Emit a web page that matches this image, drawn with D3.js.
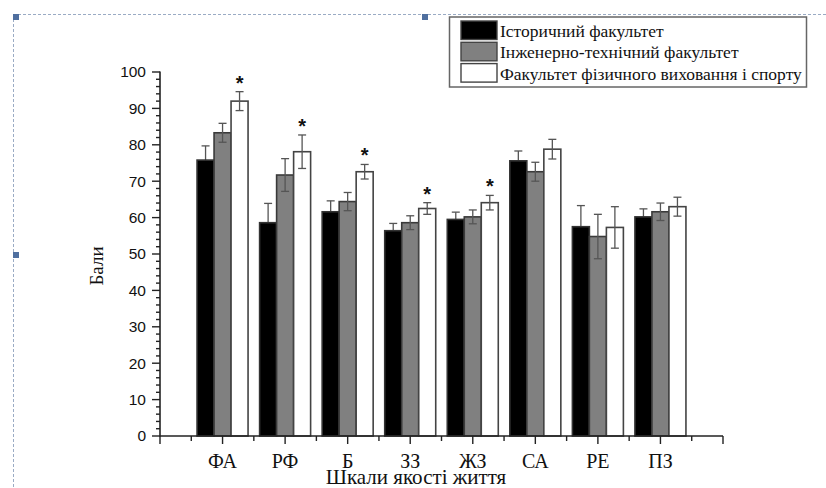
<!DOCTYPE html>
<html>
<head>
<meta charset="utf-8">
<script src="https://cdn.jsdelivr.net/npm/d3@7"></script>
<style>
  html, body { margin: 0; padding: 0; background: #fff; }
  svg { display: block; }
  .serif { font-family: "Liberation Serif", "DejaVu Serif", "Times New Roman", serif; }
  .sans { font-family: "Liberation Sans", Arial, sans-serif; }
</style>
</head>
<body>
<svg id="chart" width="826" height="488"></svg>
<script>
// ---------------- DATA ----------------
const categories = ["ФА", "РФ", "Б", "ЗЗ", "ЖЗ", "СА", "РЕ", "ПЗ"];
const seriesNames = [
  "Історичний факультет",
  "Інженерно-технічний факультет",
  "Факультет фізичного виховання і спорту"
];
const historyMeans   = [75.8, 58.6, 61.6, 56.4, 59.5, 75.6, 57.5, 60.2];
const historyErrors  = [3.9, 5.3, 3.0, 2.0, 2.0, 2.7, 5.8, 2.2];
const engineerMeans  = [83.3, 71.7, 64.4, 58.6, 60.2, 72.6, 54.8, 61.6];
const engineerErrors = [2.6, 4.5, 2.5, 1.9, 1.9, 2.6, 6.1, 2.4];
const sportMeans     = [92.0, 78.1, 72.6, 62.5, 64.1, 78.8, 57.3, 63.0];
const sportErrors    = [2.6, 4.6, 2.0, 1.6, 2.0, 2.7, 5.7, 2.6];
const significant    = [true, true, true, true, true, false, false, false];
const yTickValues    = [0, 10, 20, 30, 40, 50, 60, 70, 80, 90, 100];
const yAxisTitle = "Бали";
const xAxisTitle = "Шкали якості життя";

// ---------------- LAYOUT ----------------
const svg = d3.select("#chart");
const fills = ["#000000", "#808080", "#ffffff"];
const strokes = ["#333333", "#3a3a3a", "#444444"];
const series = [
  { name: seriesNames[0], means: historyMeans, errs: historyErrors },
  { name: seriesNames[1], means: engineerMeans, errs: engineerErrors },
  { name: seriesNames[2], means: sportMeans, errs: sportErrors }
];

const x = d3.scaleLinear().domain([0, categories.length + 1]).range([160, 723]);
const y = d3.scaleLinear().domain([0, 100]).range([436, 72]);
const barW = 17;

// decorative dashed frame with handles
const frameColor = "#9aabc4";
svg.append("line").attr("x1", 13).attr("x2", 826).attr("y1", 14.5).attr("y2", 14.5)
  .attr("stroke", frameColor).attr("stroke-width", 1).attr("stroke-dasharray", "3,2");
svg.append("line").attr("x1", 13.5).attr("x2", 13.5).attr("y1", 14).attr("y2", 488)
  .attr("stroke", frameColor).attr("stroke-width", 1).attr("stroke-dasharray", "3,2");
[[13, 14], [422, 14], [13, 252]].forEach(([hx, hy]) => {
  svg.append("rect").attr("x", hx).attr("y", hy).attr("width", 6).attr("height", 6)
    .attr("fill", "#4f6f9f");
});

const plot = svg.append("g");

// bars and error bars
series.forEach((s, si) => {
  const g = plot.append("g");
  const cx = i => x(i + 1) + (si - 1) * barW;
  const drawErr = () => {
    const eg = g.append("g").attr("stroke", "#555").attr("stroke-width", 1.3).attr("fill", "none");
    s.means.forEach((m, i) => {
      const e = s.errs[i];
      eg.append("line").attr("x1", cx(i)).attr("x2", cx(i)).attr("y1", y(m - e)).attr("y2", y(m + e));
      eg.append("line").attr("x1", cx(i) - 4).attr("x2", cx(i) + 4).attr("y1", y(m + e)).attr("y2", y(m + e));
      eg.append("line").attr("x1", cx(i) - 4).attr("x2", cx(i) + 4).attr("y1", y(m - e)).attr("y2", y(m - e));
    });
  };
  if (si === 0) drawErr();
  g.selectAll("rect").data(s.means).join("rect")
    .attr("x", (d, i) => cx(i) - barW / 2)
    .attr("y", d => y(d))
    .attr("width", barW)
    .attr("height", d => y(0) - y(d))
    .attr("fill", fills[si])
    .attr("stroke", strokes[si])
    .attr("stroke-width", 1.6);
  if (si !== 0) drawErr();
});

// significance stars
plot.selectAll("text.star").data(categories.map((c, i) => i).filter(i => significant[i]))
  .join("text")
  .attr("class", "star sans")
  .attr("x", i => x(i + 1) + barW)
  .attr("y", i => y(sportMeans[i] + sportErrors[i]) - 2)
  .attr("text-anchor", "middle")
  .style("font-size", "20px")
  .style("font-weight", "bold")
  .attr("fill", "#111")
  .text("*");

// y axis
const axisColor = "#222";
const yAxisG = svg.append("g");
yAxisG.append("line").attr("x1", 160).attr("x2", 160).attr("y1", y(0) + 0.5).attr("y2", y(100) - 0.5)
  .attr("stroke", axisColor).attr("stroke-width", 1.6);
d3.range(0, 101, 2).forEach(v => {
  const major = v % 10 === 0;
  yAxisG.append("line").attr("x1", 160 - (major ? 8 : 4)).attr("x2", 160)
    .attr("y1", y(v)).attr("y2", y(v)).attr("stroke", axisColor).attr("stroke-width", 1.4);
});
yAxisG.selectAll("text").data(yTickValues).join("text")
  .attr("class", "sans")
  .attr("x", 146).attr("y", d => y(d)).attr("dy", "0.35em")
  .attr("text-anchor", "end")
  .style("font-size", "15.5px")
  .attr("fill", "#111")
  .text(d => d);

// x axis
const xAxisG = svg.append("g");
xAxisG.append("line").attr("x1", 160).attr("x2", 723).attr("y1", y(0)).attr("y2", y(0))
  .attr("stroke", axisColor).attr("stroke-width", 1.6);
d3.range(0, categories.length + 1.01, 0.5).forEach(v => {
  const major = Number.isInteger(v);
  xAxisG.append("line").attr("x1", x(v)).attr("x2", x(v))
    .attr("y1", y(0)).attr("y2", y(0) + (major ? 8 : 5))
    .attr("stroke", axisColor).attr("stroke-width", 1.4);
});
xAxisG.selectAll("text").data(categories).join("text")
  .attr("class", "serif")
  .attr("x", (d, i) => x(i + 1)).attr("y", 468)
  .attr("text-anchor", "middle")
  .style("font-size", "20px")
  .attr("fill", "#111")
  .text(d => d);

// axis titles
svg.append("text")
  .attr("class", "serif")
  .attr("x", 416).attr("y", 484)
  .attr("text-anchor", "middle")
  .style("font-size", "21px")
  .attr("fill", "#111")
  .text(xAxisTitle);
svg.append("text")
  .attr("class", "serif")
  .attr("transform", "translate(103,266) rotate(-90)")
  .attr("text-anchor", "middle")
  .style("font-size", "19px")
  .attr("fill", "#111")
  .text(yAxisTitle);

// legend
const lg = svg.append("g");
lg.append("rect").attr("x", 449.5).attr("y", 17).attr("width", 357).attr("height", 70)
  .attr("fill", "#fff").attr("stroke", "#666").attr("stroke-width", 1.5);
seriesNames.forEach((n, i) => {
  lg.append("rect").attr("x", 461).attr("y", 21 + i * 21.3).attr("width", 36).attr("height", 18.5)
    .attr("fill", fills[i]).attr("stroke", "#444").attr("stroke-width", 1.4);
  lg.append("text").attr("class", "serif").attr("x", 500).attr("y", 37 + i * 21.3)
    .style("font-size", "17.5px")
    .attr("fill", "#111")
    .text(n);
});
</script>
</body>
</html>
